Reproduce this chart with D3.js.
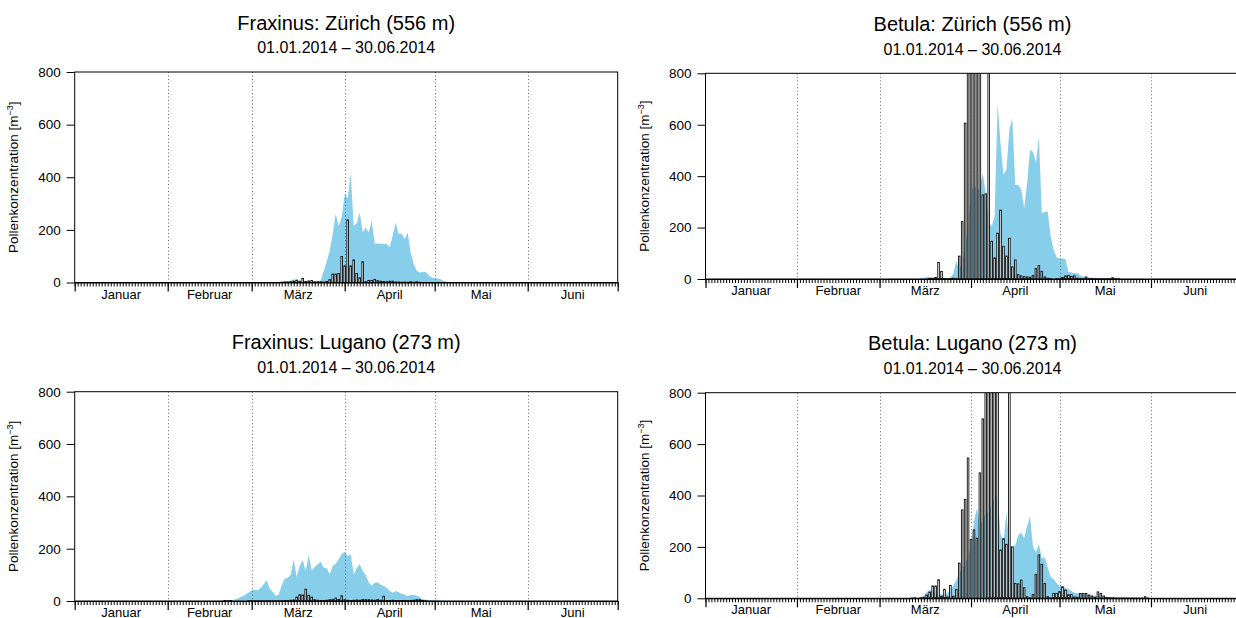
<!DOCTYPE html>
<html><head><meta charset="utf-8">
<script src="https://cdn.jsdelivr.net/npm/d3@7"></script>
<style>
body{margin:0;background:#fff;overflow:hidden}
text{font-family:"Liberation Sans",Arial,Helvetica,sans-serif;fill:#000}
</style>
</head><body>
<svg id="chart" width="1236" height="618"></svg>
<script>
// ---------- data ----------
const monthLabels = ["Januar","Februar","März","April","Mai","Juni"];
const yTickValues = [0,200,400,600,800];
const periodLabel = "01.01.2014 \u2013 30.06.2014";
const yAxisLabel = "Pollenkonzentration [m";
const yAxisLabelSup = "\u22123";
const year = 2014;

const titles = ["Fraxinus: Zürich (556 m)","Betula: Zürich (556 m)","Fraxinus: Lugano (273 m)","Betula: Lugano (273 m)"];

// day index 0 = 1 Jan 2014; each array begins at its start day
const fraxZurichStart = 66;
const fraxZurichModel = [0,2,3,4,5,5,8,12,6,4,4,5,5,4,3,4,8,44,80,120,184,260,215,250,336,320,414,215,225,266,190,209,190,234,148,148,147,147,146,133,180,228,184,186,165,190,114,70,45,38,40,40,28,19,16,15,12,6,3,2,1,0];
const fraxZurichObs = [0,0,0,1,2,2,3,5,9,5,15,4,6,8,3,3,3,2,4,11,32,32,34,99,63,238,63,86,34,18,79,3,8,8,12,7,5,4,3,5,5,2,2,1,2,1,3,1,3,1,0];

const betZurichStart = 70;
const betZurichModel = [0,0,0,2,5,8,9,3,1,1,1,1,2,5,20,70,35,60,120,220,330,372,340,360,411,330,220,205,243,683,528,405,424,580,625,366,366,350,275,370,502,495,450,554,256,262,262,165,113,85,80,80,78,28,25,22,22,15,10,8,6,5,4,3,3,2,2,2,1,1,1,0];
const betZurichObs = [0,0,0,0,0,0,2,3,6,64,29,2,1,2,3,2,89,223,606,1200,1100,1300,1000,950,327,331,900,147,82,178,268,127,89,158,47,74,17,12,9,8,7,14,41,52,30,8,3,2,0,1,2,6,12,14,10,12,3,2,1,8,1,2,1,1,1,1,1,1,5,1,1];

const fraxLuganoStart = 48;
const fraxLuganoModel = [0,1,1,2,3,5,8,13,18,25,33,41,42,41,50,65,79,48,35,20,24,60,86,88,100,159,92,134,157,115,176,117,130,140,150,127,125,102,134,142,160,180,188,172,178,102,125,140,115,98,72,58,70,72,62,57,51,38,32,38,33,28,25,18,24,23,20,15,7,5,4,4,4,3,2,1,0];
const fraxLuganoObs = [0,0,2,1,2,0,0,0,0,0,1,1,1,1,1,1,1,1,1,1,1,1,2,2,3,4,15,24,23,45,22,15,5,3,2,2,3,5,6,11,6,20,5,3,2,3,4,3,6,5,5,4,3,6,3,18,2,2,3,2,2,2,2,2,2,3,5,5,2,1];

const betLuganoStart = 70;
const betLuganoModel = [1,2,3,5,10,25,32,28,20,15,17,12,20,30,50,70,95,115,135,160,200,300,350,290,300,340,330,370,390,402,250,217,337,205,201,205,245,255,235,280,318,200,180,211,155,160,120,84,74,60,48,45,40,35,28,22,20,19,18,15,12,10,9,8,7,6,5,5,4,4,3,3,3,2,2,2,2,1,1,1,1,0];
const betLuganoObs = [1,2,0,2,4,13,24,48,48,72,8,35,5,50,8,34,137,344,385,546,229,266,234,488,698,1000,1200,1100,1050,950,188,232,210,1000,200,58,56,71,41,6,2,15,93,169,132,58,6,2,19,19,26,45,32,14,14,5,4,19,19,19,13,9,4,25,19,9,3,2,2,1,1,1,1,1,1,1,1,1,1,6,1];

// ---------- layout ----------
const panels = [
  {title:titles[0], start:fraxZurichStart, model:fraxZurichModel, obs:fraxZurichObs, left:74.7, right:617.7, top:72,    bottom:282.5},
  {title:titles[1], start:betZurichStart,  model:betZurichModel,  obs:betZurichObs,  left:705.5, right:1239.5, top:73.3, bottom:279},
  {title:titles[2], start:fraxLuganoStart, model:fraxLuganoModel, obs:fraxLuganoObs, left:74.7, right:617.7, top:391.7, bottom:601},
  {title:titles[3], start:betLuganoStart,  model:betLuganoModel,  obs:betLuganoObs,  left:705.5, right:1239.5, top:392.7, bottom:598.3}
];

const svg = d3.select("#chart");
const dayDate = d => new Date(Date.UTC(year,0,1+d));

panels.forEach((p,i) => {
  const g = svg.append("g");
  const x = d3.scaleUtc().domain([dayDate(0), new Date(Date.UTC(year,6,1))]).range([p.left,p.right]);
  const y = d3.scaleLinear().domain([0,800]).range([p.bottom,p.top]);
  const cx = (p.left+p.right)/2;

  // titles
  g.append("text").attr("x",cx).attr("y",p.top-42.5).attr("text-anchor","middle")
    .style("font-size","20px").text(p.title);
  g.append("text").attr("x",cx).attr("y",p.top-18.7).attr("text-anchor","middle")
    .style("font-size","16px").text(periodLabel);

  const clipId = "clip"+i;
  g.append("clipPath").attr("id",clipId).append("rect")
    .attr("x",p.left).attr("y",p.top).attr("width",p.right-p.left).attr("height",p.bottom-p.top);

  const plot = g.append("g").attr("clip-path",`url(#${clipId})`);

  // model area
  const modelPts = p.model.map((v,k)=>({date:dayDate(p.start+k), v}));
  plot.append("path").datum(modelPts)
    .attr("fill","#87CEEB").attr("stroke","none")
    .attr("d", d3.area().x(d=>x(d.date)).y0(y(0)).y1(d=>y(d.v)));

  // dotted month lines
  const monthStarts = d3.utcMonth.range(new Date(Date.UTC(year,1,1)), new Date(Date.UTC(year,6,1)));
  plot.selectAll(".mline").data(monthStarts).enter().append("line")
    .attr("x1",d=>Math.round(x(d))+0.5).attr("x2",d=>Math.round(x(d))+0.5)
    .attr("y1",p.top).attr("y2",p.bottom)
    .attr("stroke","#666").attr("stroke-width",1).attr("stroke-dasharray","1,2.5");

  // observed bars
  const obsPts = p.obs.map((v,k)=>({date:dayDate(p.start+k), v})).filter(d=>d.v>0);
  const bw = 1.6;
  plot.selectAll(".bar").data(obsPts).enter().append("rect")
    .attr("x",d=>x(d.date)-bw/2).attr("width",bw)
    .attr("y",d=>y(d.v)).attr("height",d=>y(0)-y(d.v))
    .attr("fill","#ffffff").attr("stroke","#000").attr("stroke-width",0.85);

  // frame
  g.append("rect").attr("x",p.left).attr("y",p.top).attr("width",p.right-p.left).attr("height",p.bottom-p.top)
    .attr("fill","none").attr("stroke","#000").attr("stroke-width",1);

  // y axis
  const yAxis = d3.axisLeft(y).tickValues(yTickValues).tickSize(8).tickPadding(6).tickSizeOuter(0);
  const ya = g.append("g").attr("transform",`translate(${p.left},0)`).call(yAxis);
  ya.select(".domain").remove();
  ya.selectAll("text").style("font-size","13.5px").attr("font-family",null);
  ya.selectAll("line").attr("stroke","#000");

  // x axis: minor daily ticks
  const xMinor = d3.axisBottom(x).ticks(d3.utcDay.every(1)).tickSize(4).tickFormat("").tickSizeOuter(0);
  const xm = g.append("g").attr("transform",`translate(0,${p.bottom})`).call(xMinor);
  xm.select(".domain").attr("stroke","#000");
  xm.selectAll("line").attr("stroke","#000").attr("stroke-width",1);
  // major month ticks
  const xMajor = d3.axisBottom(x).ticks(d3.utcMonth.every(1)).tickSize(9).tickFormat("").tickSizeOuter(0);
  const xM = g.append("g").attr("transform",`translate(0,${p.bottom})`).call(xMajor);
  xM.select(".domain").remove();
  xM.selectAll("line").attr("stroke","#000").attr("stroke-width",1.2);

  // month labels (centered)
  const mids = monthLabels.map((m,k)=>({m, d:new Date((Date.UTC(year,k,1)+Date.UTC(year,k+1,1))/2)}));
  g.selectAll(".mlab").data(mids).enter().append("text")
    .attr("x",d=>x(d.d)).attr("y",p.bottom+16).attr("text-anchor","middle")
    .style("font-size","13px").text(d=>d.m);

  // y axis label
  const yl = g.append("text")
    .attr("transform",`translate(${p.left-57},${(p.top+p.bottom)/2}) rotate(-90)`)
    .attr("text-anchor","middle").style("font-size","13.5px");
  yl.append("tspan").text(yAxisLabel);
  yl.append("tspan").attr("dy","-5").style("font-size","9px").text(yAxisLabelSup);
  yl.append("tspan").attr("dy","5").text("]");
});
</script>
</body></html>
